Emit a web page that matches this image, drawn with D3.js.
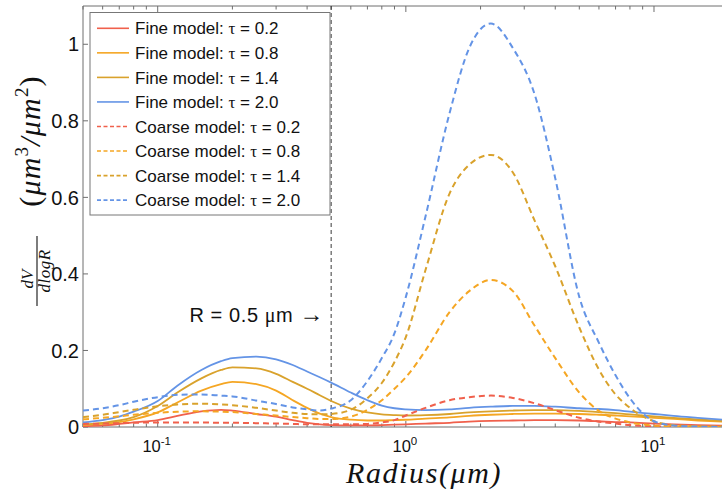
<!DOCTYPE html>
<html><head><meta charset="utf-8">
<script src="https://cdn.jsdelivr.net/npm/d3@7"></script>
<style>body{margin:0;background:#fff}svg{display:block}</style>
</head><body>
<svg id="c" width="722" height="489"></svg>
<script>
const radius = [0.05,0.06,0.07,0.08,0.1,0.12,0.15,0.18,0.2,0.25,0.3,0.35,0.4,0.45,0.5,0.6,0.7,0.8,0.9,1.0,1.2,1.5,1.8,2.2,2.7,3.3,4,5,6,7,8,10,12,15,20];
const fine02 = [0.002,0.004,0.008,0.012,0.018,0.029,0.041,0.045,0.043,0.034,0.027,0.018,0.011,0.007,0.005,0.004,0.004,0.005,0.006,0.007,0.009,0.011,0.014,0.016,0.017,0.018,0.018,0.017,0.015,0.013,0.012,0.009,0.007,0.005,0.003];
const fine08 = [0.005,0.008,0.013,0.02,0.038,0.064,0.095,0.112,0.118,0.112,0.095,0.07,0.05,0.035,0.026,0.019,0.017,0.017,0.018,0.019,0.022,0.025,0.029,0.032,0.034,0.035,0.035,0.034,0.032,0.03,0.028,0.024,0.021,0.017,0.013];
const fine14 = [0.007,0.011,0.017,0.026,0.055,0.09,0.127,0.149,0.156,0.153,0.139,0.118,0.1,0.083,0.068,0.048,0.038,0.033,0.031,0.03,0.031,0.034,0.038,0.041,0.043,0.044,0.044,0.042,0.039,0.036,0.033,0.028,0.024,0.02,0.015];
const fine20 = [0.012,0.018,0.027,0.04,0.068,0.108,0.149,0.172,0.18,0.184,0.177,0.162,0.145,0.13,0.116,0.09,0.07,0.056,0.049,0.046,0.044,0.046,0.05,0.053,0.055,0.055,0.053,0.049,0.047,0.044,0.04,0.034,0.029,0.024,0.018];
const coarse02 = [0.008,0.009,0.01,0.011,0.012,0.012,0.012,0.011,0.011,0.01,0.009,0.008,0.007,0.007,0.007,0.007,0.008,0.012,0.018,0.03,0.05,0.07,0.078,0.082,0.076,0.062,0.044,0.024,0.014,0.009,0.005,0.002,0.001,0.0,0.0];
const coarse08 = [0.02,0.024,0.028,0.032,0.037,0.04,0.041,0.04,0.039,0.034,0.03,0.026,0.023,0.021,0.021,0.027,0.045,0.07,0.1,0.13,0.2,0.3,0.355,0.384,0.355,0.265,0.18,0.09,0.042,0.022,0.012,0.004,0.002,0.001,0.0];
const coarse14 = [0.026,0.032,0.039,0.045,0.054,0.059,0.061,0.059,0.057,0.05,0.043,0.037,0.034,0.033,0.034,0.045,0.075,0.115,0.17,0.235,0.41,0.61,0.685,0.711,0.665,0.54,0.42,0.26,0.15,0.085,0.05,0.015,0.005,0.002,0.001];
const coarse20 = [0.043,0.049,0.057,0.066,0.078,0.084,0.085,0.082,0.08,0.069,0.06,0.051,0.046,0.043,0.048,0.07,0.12,0.18,0.245,0.34,0.55,0.82,0.99,1.054,0.99,0.87,0.65,0.34,0.22,0.135,0.075,0.015,0.004,0.001,0.0];
const seriesNames = ["Fine model: \u03c4 = 0.2","Fine model: \u03c4 = 0.8","Fine model: \u03c4 = 1.4","Fine model: \u03c4 = 2.0","Coarse model: \u03c4 = 0.2","Coarse model: \u03c4 = 0.8","Coarse model: \u03c4 = 1.4","Coarse model: \u03c4 = 2.0"];
const seriesValues = [fine02,fine08,fine14,fine20,coarse02,coarse08,coarse14,coarse20];
const seriesColors = ["#f0604c","#f5a623","#d9a22c","#6494e6","#f0604c","#f5a623","#d9a22c","#6494e6"];
const seriesDashed = [false,false,false,false,true,true,true,true];
const yTicks = [0,0.2,0.4,0.6,0.8,1];
const yTickLabels = ["0","0.2","0.4","0.6","0.8","1"];
const xMajor = [0.1,1,10];
const xMajorExp = ["-1","0","1"];
const cutoff = 0.5;

const svg = d3.select("#c");
const L=83, T=6, B=427, R=728.7;
const x = d3.scaleLog().domain([0.05,20]).range([L,R]);
const y = d3.scaleLinear().domain([0,1.1]).range([B,T]);

svg.append("defs").append("clipPath").attr("id","pc").append("rect")
  .attr("x",L).attr("y",T).attr("width",R-L).attr("height",B-T);

const axisCol = "#6e6e6e";
svg.append("line").attr("x1",L).attr("x2",R).attr("y1",T).attr("y2",T).attr("stroke",axisCol).attr("stroke-width",1);
svg.append("line").attr("x1",L).attr("x2",R).attr("y1",B).attr("y2",B).attr("stroke",axisCol).attr("stroke-width",1);
svg.append("line").attr("x1",L).attr("x2",L).attr("y1",T).attr("y2",B).attr("stroke",axisCol).attr("stroke-width",1);

const minor = [];
for (let d=0.01; d<=10; d*=10) for (let k=1;k<=9;k++){ const v=+(k*d).toPrecision(3); if(v>=0.05 && v<=20) minor.push(v); }
minor.push(20);
minor.forEach(v=>{
  const major = xMajor.includes(v);
  const len = major?6:3.5;
  svg.append("line").attr("x1",x(v)).attr("x2",x(v)).attr("y1",B).attr("y2",B-len).attr("stroke",axisCol);
  svg.append("line").attr("x1",x(v)).attr("x2",x(v)).attr("y1",T).attr("y2",T+len).attr("stroke",axisCol);
});
xMajor.forEach((v,i)=>{
  const t = svg.append("text").attr("x",x(v)-1).attr("y",452).attr("text-anchor","middle")
    .attr("font-family","Liberation Sans, Arial, sans-serif").attr("font-size",16.5).attr("fill","#111");
  t.append("tspan").text("10");
  t.append("tspan").attr("font-size",11.5).attr("dy",-7).text(xMajorExp[i]);
});
yTicks.forEach((v,i)=>{
  svg.append("line").attr("x1",L).attr("x2",L+5).attr("y1",y(v)).attr("y2",y(v)).attr("stroke",axisCol);
  svg.append("text").attr("x",79).attr("y",y(v)).attr("dy","0.36em").attr("text-anchor","end")
    .attr("font-family","Liberation Sans, Arial, sans-serif").attr("font-size",20).attr("fill","#111").text(yTickLabels[i]);
});

svg.append("line").attr("x1",x(cutoff)).attr("x2",x(cutoff)).attr("y1",T).attr("y2",B)
  .attr("stroke","#222").attr("stroke-width",0.9).attr("stroke-dasharray","4,3");

const line = d3.line().x((d,i)=>x(radius[i])).y(d=>y(d)).curve(d3.curveMonotoneX);
const g = svg.append("g").attr("clip-path","url(#pc)");
seriesValues.forEach((vals,i)=>{
  g.append("path").attr("d",line(vals)).attr("fill","none").attr("stroke",seriesColors[i])
    .attr("stroke-width",seriesDashed[i]?2:1.8)
    .attr("stroke-dasharray",seriesDashed[i]?"6,4":null);
});

const ann = svg.append("text").attr("x",x(cutoff)-7).attr("y",322).attr("text-anchor","end")
  .attr("font-family","Liberation Sans, Arial, sans-serif").attr("font-size",20).attr("letter-spacing",0.6).attr("fill","#111");
ann.append("tspan").text("R = 0.5 ");
ann.append("tspan").attr("font-family","Liberation Serif, Times New Roman, serif").text("\u03bc");
ann.append("tspan").text("m ");
ann.append("tspan").attr("font-size",24).text("\u2192");

const lg = svg.append("g");
lg.append("rect").attr("x",90).attr("y",12.5).attr("width",240).attr("height",202.5).attr("fill","#fff").attr("stroke","#777").attr("stroke-width",1);
seriesNames.forEach((n,i)=>{
  const cy = 28.3 + i*24.55;
  lg.append("line").attr("x1",97).attr("x2",129).attr("y1",cy).attr("y2",cy).attr("stroke",seriesColors[i])
    .attr("stroke-width",1.6).attr("stroke-dasharray",seriesDashed[i]?"4,2.5":null);
  const parts = n.split("\u03c4");
  const t = lg.append("text").attr("x",135).attr("y",cy).attr("dy","0.36em")
    .attr("font-family","Liberation Sans, Arial, sans-serif").attr("font-size",17).attr("fill","#111");
  t.append("tspan").text(parts[0]);
  t.append("tspan").attr("font-family","Liberation Serif, Times New Roman, serif").text("\u03c4");
  t.append("tspan").text(parts[1]);
});

svg.append("text").attr("x",424).attr("y",483).attr("text-anchor","middle")
  .attr("font-family","Liberation Serif, Times New Roman, serif").attr("font-style","italic").attr("font-size",30).attr("letter-spacing",1.6).attr("fill","#111")
  .text("Radius(\u03bcm)");

const yt = svg.append("g").attr("transform","rotate(-90)");
yt.append("text").attr("x",-279).attr("y",33).attr("text-anchor","middle")
  .attr("font-family","Liberation Serif, Times New Roman, serif").attr("font-style","italic").attr("font-size",17).attr("fill","#111").text("dV");
yt.append("line").attr("x1",-306).attr("x2",-236).attr("y1",37).attr("y2",37).attr("stroke","#111").attr("stroke-width",1.1);
yt.append("text").attr("x",-271).attr("y",50).attr("text-anchor","middle")
  .attr("font-family","Liberation Serif, Times New Roman, serif").attr("font-style","italic").attr("font-size",17).attr("letter-spacing",0.5).attr("fill","#111").text("dlogR");
const yl = yt.append("text").attr("x",-141).attr("y",40).attr("text-anchor","middle")
  .attr("font-family","Liberation Serif, Times New Roman, serif").attr("font-style","italic").attr("font-size",30).attr("letter-spacing",1.2).attr("fill","#111");
yl.append("tspan").attr("font-style","normal").text("(");
yl.append("tspan").text("\u03bcm");
yl.append("tspan").attr("font-size",19).attr("font-style","normal").attr("dy",-12).text("3");
yl.append("tspan").attr("dy",12).text("/\u03bcm");
yl.append("tspan").attr("font-size",19).attr("font-style","normal").attr("dy",-12).text("2");
yl.append("tspan").attr("dy",12).attr("font-style","normal").text(")");
</script>
</body></html>
